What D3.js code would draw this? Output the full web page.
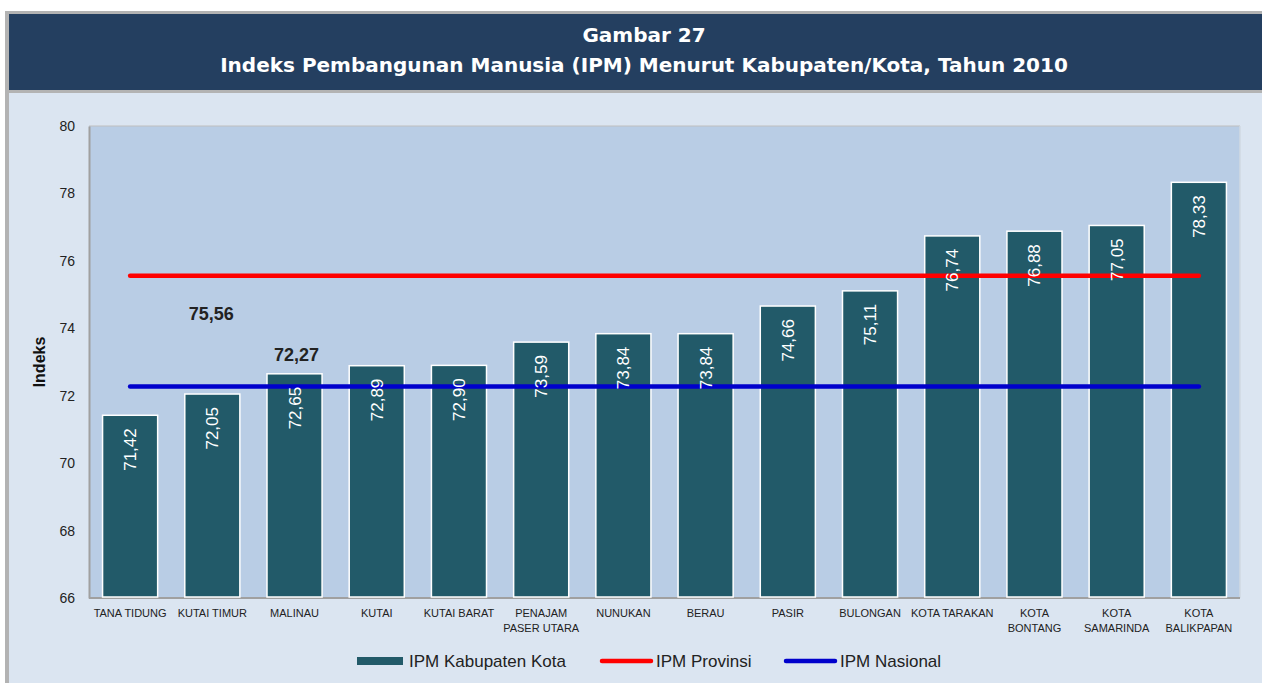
<!DOCTYPE html>
<html><head><meta charset="utf-8">
<script src="https://cdn.jsdelivr.net/npm/d3@7"></script>
<style>body{margin:0;background:#fff}svg{display:block}</style>
</head><body><svg id="c" width="1262" height="683"></svg>
<script>
const categories = ["TANA TIDUNG","KUTAI TIMUR","MALINAU","KUTAI","KUTAI BARAT","PENAJAM|PASER UTARA","NUNUKAN","BERAU","PASIR","BULONGAN","KOTA TARAKAN","KOTA|BONTANG","KOTA|SAMARINDA","KOTA|BALIKPAPAN"];
const ipmKab = [71.42,72.05,72.65,72.89,72.90,73.59,73.84,73.84,74.66,75.11,76.74,76.88,77.05,78.33];
const ipmProvinsi = 75.56;
const ipmNasional = 72.27;
const yTicks = [66,68,70,72,74,76,78,80];
const titleLines = ["Gambar 27","Indeks Pembangunan Manusia (IPM) Menurut Kabupaten/Kota, Tahun 2010"];
const legendLabels = ["IPM Kabupaten Kota","IPM Provinsi","IPM Nasional"];
const fmt = v => v.toFixed(2).replace(".", ",");

const svg = d3.select("#c");
// frame
svg.append("rect").attr("x",5).attr("y",11).attr("width",1262).attr("height",680).attr("fill","#B3B3B3");
svg.append("rect").attr("x",9).attr("y",14).attr("width",1262).attr("height",680).attr("fill","#DBE5F1");
svg.append("rect").attr("x",9).attr("y",14).attr("width",1262).attr("height",76).attr("fill","#243F60");
svg.append("rect").attr("x",9).attr("y",90).attr("width",1262).attr("height",3).attr("fill","#B3B3B3");
svg.selectAll("text.title").data(titleLines).join("text").attr("class","title")
  .attr("x",644).attr("y",(d,i)=>42+i*30).attr("text-anchor","middle")
  .attr("fill","#fff").attr("font-family","DejaVu Sans").attr("font-weight","bold")
  .attr("font-size",20).text(d=>d);

const m = {l:89, r:1240, t:126, b:598};
const x = d3.scaleBand().domain(categories).range([m.l,m.r]).paddingInner(0.33).paddingOuter(0.165);
const y = d3.scaleLinear().domain([66,80]).range([m.b,m.t]);

svg.append("rect").attr("x",m.l).attr("y",m.t).attr("width",m.r-m.l).attr("height",m.b-m.t).attr("fill","#B9CDE5");
svg.append("line").attr("x1",m.l).attr("x2",m.r).attr("y1",m.t).attr("y2",m.t).attr("stroke","#BFBFBF").attr("stroke-width",1);
svg.append("line").attr("x1",m.r).attr("x2",m.r).attr("y1",m.t).attr("y2",m.b).attr("stroke","#D0D8E2").attr("stroke-width",1.5);

// y axis
const ya = svg.append("g").attr("transform",`translate(${m.l},0)`).call(d3.axisLeft(y).tickValues(yTicks).tickSize(0).tickPadding(14));
ya.select(".domain").attr("stroke","#A0A0A0").attr("stroke-width",2);
ya.selectAll("text").attr("font-family","Liberation Sans, Arial").attr("font-size",14).attr("fill","#222");
// x axis baseline
svg.append("line").attr("x1",m.l).attr("x2",m.r).attr("y1",m.b).attr("y2",m.b).attr("stroke","#A0A0A0").attr("stroke-width",2);

svg.append("text").attr("transform",`translate(45,${(m.t+m.b)/2}) rotate(-90)`).attr("text-anchor","middle")
  .attr("font-family","Liberation Sans, Arial").attr("font-weight","bold").attr("font-size",16).attr("fill","#111").text("Indeks");

// bars
svg.selectAll("rect.bar").data(ipmKab).join("rect").attr("class","bar")
  .attr("x",(d,i)=>x(categories[i])).attr("width",x.bandwidth())
  .attr("y",d=>y(d)).attr("height",d=>y(66)-y(d)-1)
  .attr("fill","#225A69").attr("stroke","#fff").attr("stroke-width",1.5);

// lines
const xc = i => x(categories[i]) + x.bandwidth()/2;
const lineData = [[ipmProvinsi,"#FF0000"],[ipmNasional,"#0000CC"]];
svg.selectAll("line.ref").data(lineData).join("line").attr("class","ref")
  .attr("x1",xc(0)).attr("x2",xc(categories.length-1))
  .attr("y1",d=>y(d[0])).attr("y2",d=>y(d[0]))
  .attr("stroke",d=>d[1]).attr("stroke-width",4.5).attr("stroke-linecap","round");

// bar labels
svg.selectAll("text.bl").data(ipmKab).join("text").attr("class","bl")
  .attr("transform",(d,i)=>`translate(${xc(i)+6},${y(d)+13}) rotate(-90)`)
  .attr("text-anchor","end").attr("fill","#fff")
  .attr("font-family","Liberation Sans, Arial").attr("font-size",17).text(d=>fmt(d));

// ref labels
svg.append("text").attr("x",xc(1)-1).attr("y",y(ipmProvinsi)+44).attr("text-anchor","middle")
  .attr("font-family","Liberation Sans, Arial").attr("font-weight","bold").attr("font-size",18).attr("fill","#222").text(fmt(ipmProvinsi));
svg.append("text").attr("x",xc(2)+2).attr("y",y(ipmNasional)-26).attr("text-anchor","middle")
  .attr("font-family","Liberation Sans, Arial").attr("font-weight","bold").attr("font-size",18).attr("fill","#222").text(fmt(ipmNasional));

// x labels
const xl = svg.selectAll("text.xl").data(categories).join("text").attr("class","xl")
  .attr("x",(d,i)=>xc(i)).attr("y",617).attr("text-anchor","middle")
  .attr("font-family","Liberation Sans Narrow, Liberation Sans, Arial").attr("font-size",11).attr("fill","#222");
xl.selectAll("tspan").data(d=>d.split("|")).join("tspan").attr("x",function(){return this.parentNode.getAttribute("x");})
  .attr("dy",(d,i)=>i?15:0).text(d=>d);

// legend
const lg = svg.append("g").attr("font-family","Liberation Sans, Arial").attr("font-size",17).attr("fill","#222");
lg.append("rect").attr("x",357).attr("y",657).attr("width",46).attr("height",8).attr("fill","#225A69");
lg.append("text").attr("x",409).attr("y",667).text(legendLabels[0]);
lg.append("line").attr("x1",602).attr("x2",651).attr("y1",661).attr("y2",661).attr("stroke","#FF0000").attr("stroke-width",4.5).attr("stroke-linecap","round");
lg.append("text").attr("x",656).attr("y",667).text(legendLabels[1]);
lg.append("line").attr("x1",786).attr("x2",835).attr("y1",661).attr("y2",661).attr("stroke","#0000CC").attr("stroke-width",4.5).attr("stroke-linecap","round");
lg.append("text").attr("x",840).attr("y",667).text(legendLabels[2]);
</script></body></html>
